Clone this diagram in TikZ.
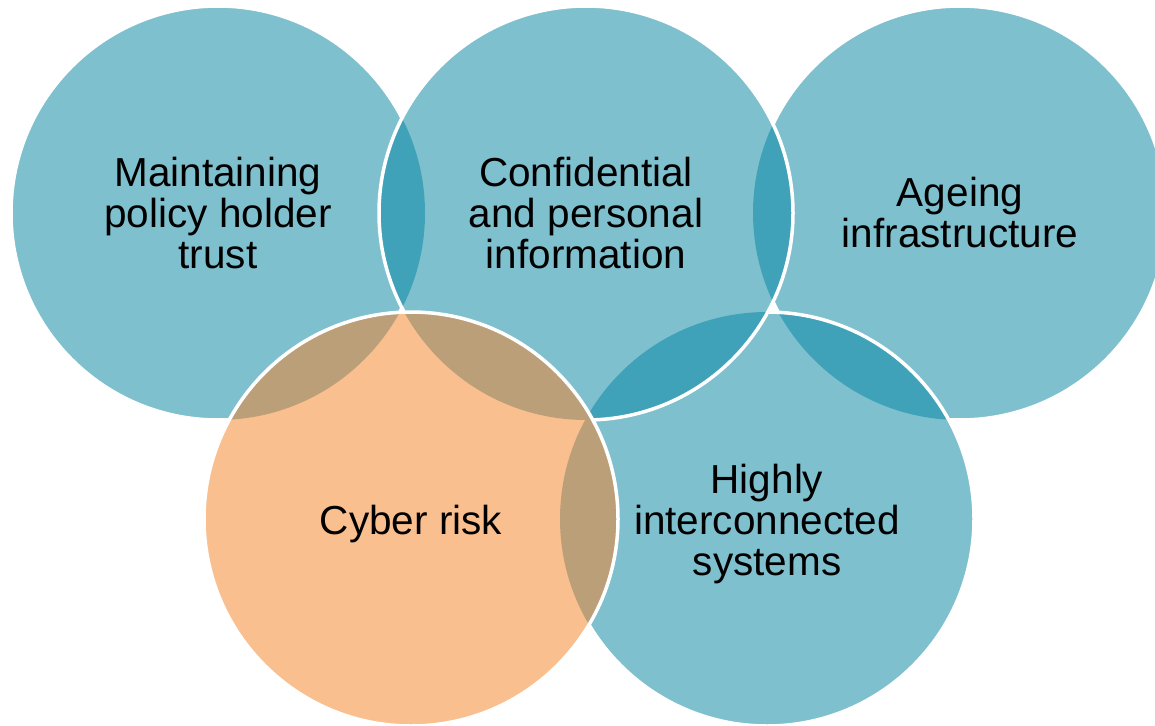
\documentclass[tikz,border=0pt]{standalone}
\usepackage{fontspec}
\setmainfont{Liberation Sans}
\definecolor{tealA}{RGB}{127,192,206}
\definecolor{tealB}{RGB}{64,162,184}
\definecolor{orgA}{RGB}{249,191,143}
\definecolor{orgB}{RGB}{187,159,120}
\tikzset{
  rim/.style={draw=white, line width=3.5pt},
  label/.style={align=center, font=\fontsize{40.5}{41}\selectfont, text=black, inner sep=0pt}
}
\begin{document}
\begin{tikzpicture}[x=1pt,y=-1pt]
\useasboundingbox (0,0) rectangle (1155,725);
\def\R{207pt}
\coordinate (c1) at (218,213);
\coordinate (c2) at (586,213);
\coordinate (c3) at (960,213);
\coordinate (c4) at (411,519);
\coordinate (c5) at (767,519);
% circle 1
\fill[tealA] (c1) circle (\R);
\draw[rim] (c1) circle (\R);
% circle 3
\fill[tealA] (c3) circle (\R);
\draw[rim] (c3) circle (\R);
% circle 5
\fill[tealA] (c5) circle (\R);
\begin{scope}
  \clip (c5) circle (\R);
  \fill[tealB] (c3) circle (\R);
\end{scope}
\draw[rim] (c5) circle (\R);
% circle 2
\fill[tealA] (c2) circle (\R);
\begin{scope}
  \clip (c2) circle (\R);
  \fill[tealB] (c1) circle (\R);
  \fill[tealB] (c3) circle (\R);
  \fill[tealB] (c5) circle (\R);
\end{scope}
\draw[rim] (c2) circle (\R);
% circle 4
\fill[orgA] (c4) circle (\R);
\begin{scope}
  \clip (c4) circle (\R);
  \fill[orgB] (c1) circle (\R);
  \fill[orgB] (c2) circle (\R);
  \fill[orgB] (c5) circle (\R);
\end{scope}
\draw[rim] (c4) circle (\R);
% labels
\node[label] (t1) at (c1) {Maintaining\\policy holder\\trust};
\node[label] (t2) at (c2) {Confidential\\and personal\\information};
\node[label] (t3) at (c3) {Ageing\\infrastructure};
\node[label] (t4) at ([yshift=-5pt]c4) {Cyber risk};
\node[label] (t5) at ([yshift=-5pt]c5) {Highly\\interconnected\\systems};
\end{tikzpicture}
\end{document}
